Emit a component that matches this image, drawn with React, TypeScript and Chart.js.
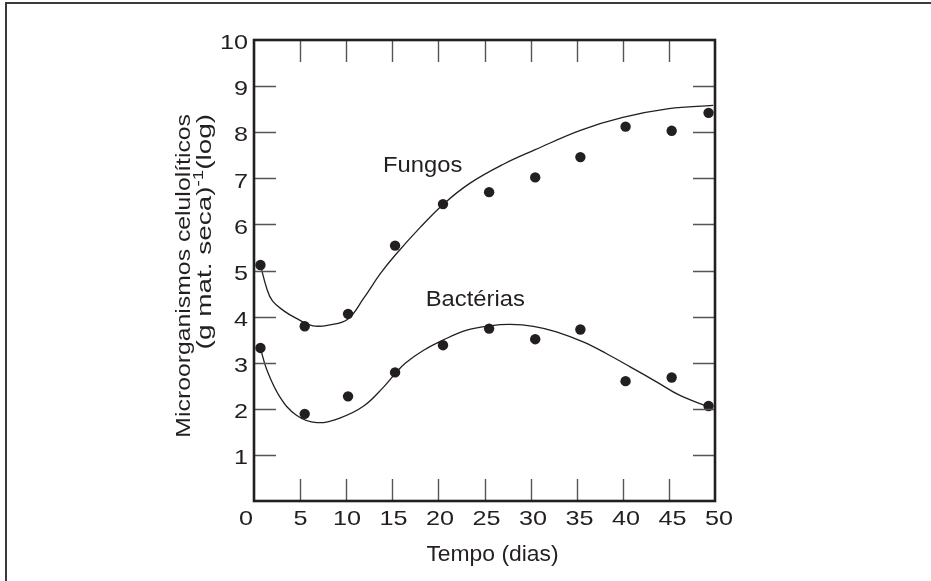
import React, { useEffect, useRef } from "react";
import { Chart, registerables } from "chart.js";

Chart.register(...registerables);

// Axis ticks
const dayTicks = [0, 5, 10, 15, 20, 25, 30, 35, 40, 45, 50];
const logTicks = [0, 1, 2, 3, 4, 5, 6, 7, 8, 9, 10];

// Sampling days and observed counts (log)
const sampleDays = [0.7, 5.5, 10.2, 15.3, 20.5, 25.5, 30.5, 35.4, 40.3, 45.3, 49.3];
const fungosObs = [5.12, 3.79, 4.06, 5.54, 6.44, 6.7, 7.02, 7.46, 8.12, 8.03, 8.42];
const bacteriasObs = [3.32, 1.89, 2.27, 2.79, 3.38, 3.74, 3.51, 3.72, 2.6, 2.68, 2.06];

// Fitted trend curves
const fungosFitDays = [0.7, 1.4, 2.0, 3.2, 4.6, 6.4, 8.2, 10.2, 11.9, 13.7, 15.3, 18.0, 20.6, 23.4, 27.0, 30.5, 35.4, 40.0, 45.0, 49.8];
const fungosFit = [5.12, 4.6, 4.34, 4.13, 3.96, 3.8, 3.82, 3.95, 4.4, 4.93, 5.33, 5.93, 6.45, 6.89, 7.3, 7.62, 8.04, 8.32, 8.51, 8.58];
const bacteriasFitDays = [0.7, 1.4, 2.8, 4.6, 6.8, 9.3, 11.9, 14.0, 15.3, 16.4, 18.4, 20.5, 23.0, 25.6, 27.8, 30.3, 32.8, 35.7, 38.2, 40.8, 43.7, 46.2, 49.3];
const bacteriasFit = [3.31, 2.84, 2.26, 1.86, 1.7, 1.8, 2.06, 2.46, 2.76, 2.99, 3.27, 3.49, 3.7, 3.8, 3.83, 3.79, 3.67, 3.45, 3.2, 2.91, 2.58, 2.29, 2.04];

// Text
const xTitle = "Tempo (dias)";
const yTitleLine1 = "Microorganismos celulolíticos";
const yTitleLine2 = ["(g mat. seca)", "-1", "(log)"];
const seriesLabels = ["Fungos", "Bactérias"];
const seriesLabelPos = [
  { x: 18.3, y: 7.3 },
  { x: 24.0, y: 4.4 },
];

const INK = "#231f20";
const FONT = "'Liberation Sans', Arial, Helvetica, sans-serif";

const zip = (xs: number[], ys: number[]) => xs.map((x, i) => ({ x, y: ys[i] }));

function drawScaledText(
  ctx: CanvasRenderingContext2D,
  text: string,
  x: number,
  y: number,
  size: number,
  align: CanvasTextAlign,
  sx: number
) {
  ctx.save();
  ctx.translate(x, y);
  ctx.scale(sx, 1);
  ctx.font = `${size}px ${FONT}`;
  ctx.textAlign = align;
  ctx.textBaseline = "alphabetic";
  ctx.fillText(text, 0, 0);
  ctx.restore();
}

const framePlugin = {
  id: "frameAndLabels",
  afterDraw(chart: any) {
    const ctx: CanvasRenderingContext2D = chart.ctx;
    const xs = chart.scales.x;
    const ys = chart.scales.y;
    const a = chart.chartArea;

    ctx.save();

    // outer figure border (left and top)
    ctx.strokeStyle = "#3a3a3a";
    ctx.lineWidth = 2;
    ctx.beginPath();
    ctx.moveTo(6, chart.height);
    ctx.lineTo(6, 3);
    ctx.lineTo(chart.width, 3);
    ctx.stroke();

    // inward tick marks
    ctx.strokeStyle = "#555555";
    ctx.lineWidth = 1.4;
    const tl = 22;
    ctx.beginPath();
    dayTicks.slice(1, -1).forEach((v) => {
      const px = Math.round(xs.getPixelForValue(v)) + 0.5;
      ctx.moveTo(px, a.bottom);
      ctx.lineTo(px, a.bottom - tl);
      ctx.moveTo(px, a.top);
      ctx.lineTo(px, a.top + tl);
    });
    logTicks.slice(1, -1).forEach((v) => {
      const py = Math.round(ys.getPixelForValue(v)) + 0.5;
      ctx.moveTo(a.left, py);
      ctx.lineTo(a.left + tl, py);
      ctx.moveTo(a.right - tl, py);
      ctx.lineTo(a.right, py);
    });
    ctx.stroke();

    // plot frame
    ctx.strokeStyle = INK;
    ctx.lineWidth = 2.6;
    ctx.strokeRect(a.left, a.top, a.right - a.left, a.bottom - a.top);

    ctx.fillStyle = INK;
    const tickSize = 21;

    // x tick labels
    dayTicks.forEach((v) => {
      let px = xs.getPixelForValue(v) + v * 0.08;
      if (v === 0) px -= 8;
      drawScaledText(ctx, String(v), px, a.bottom + 24, tickSize, "center", 1.2);
    });

    // y tick labels
    logTicks.slice(1).forEach((v) => {
      const py = ys.getPixelForValue(v);
      drawScaledText(ctx, String(v), a.left - 6, py + 9.2, tickSize, "right", 1.2);
    });

    // x title
    drawScaledText(ctx, xTitle, (a.left + a.right) / 2 + 8, 560.5, 22, "center", 1.04);

    // y title, two rotated lines ending at the same height
    const endY = 114;
    ctx.save();
    ctx.translate(189.5, endY);
    ctx.rotate(-Math.PI / 2);
    ctx.scale(1.18, 1);
    ctx.font = `21px ${FONT}`;
    ctx.textAlign = "right";
    ctx.fillText(yTitleLine1, 0, 0);
    ctx.restore();

    ctx.save();
    ctx.translate(211, endY);
    ctx.rotate(-Math.PI / 2);
    ctx.scale(1.33, 1);
    const mainFont = `21px ${FONT}`;
    const supFont = `14px ${FONT}`;
    ctx.font = mainFont;
    const w1 = ctx.measureText(yTitleLine2[0]).width;
    const w3 = ctx.measureText(yTitleLine2[2]).width;
    ctx.font = supFont;
    const w2 = ctx.measureText(yTitleLine2[1]).width;
    let cx = -(w1 + w2 + w3);
    ctx.textAlign = "left";
    ctx.font = mainFont;
    ctx.fillText(yTitleLine2[0], cx, 0);
    cx += w1;
    ctx.font = supFont;
    ctx.fillText(yTitleLine2[1], cx, -8);
    cx += w2;
    ctx.font = mainFont;
    ctx.fillText(yTitleLine2[2], cx, 0);
    ctx.restore();

    // series labels
    seriesLabels.forEach((t, i) => {
      const p = seriesLabelPos[i];
      drawScaledText(ctx, t, xs.getPixelForValue(p.x), ys.getPixelForValue(p.y) + 8, 22, "center", 1.08);
    });

    ctx.restore();
  },
};

export default function App() {
  const ref = useRef<HTMLCanvasElement | null>(null);

  useEffect(() => {
    if (!ref.current) return;
    const lineStyle = {
      type: "line" as const,
      showLine: true,
      borderColor: INK,
      borderWidth: 1.3,
      pointRadius: 0,
      fill: false,
      tension: 0.4,
    };
    const pointStyle = {
      type: "scatter" as const,
      showLine: false,
      pointRadius: 5.2,
      pointBackgroundColor: INK,
      pointBorderWidth: 0,
      clip: false as any,
    };
    const chart = new Chart(ref.current, {
      type: "scatter",
      data: {
        datasets: [
          { ...lineStyle, label: "Fungos (ajuste)", data: zip(fungosFitDays, fungosFit) },
          { ...lineStyle, label: "Bactérias (ajuste)", data: zip(bacteriasFitDays, bacteriasFit) },
          { ...pointStyle, label: "Fungos", data: zip(sampleDays, fungosObs) },
          { ...pointStyle, label: "Bactérias", data: zip(sampleDays, bacteriasObs) },
        ] as any,
      },
      options: {
        responsive: false,
        animation: false,
        devicePixelRatio: 1,
        layout: { padding: { left: 254, top: 40, right: 216, bottom: 80 } },
        scales: {
          x: { type: "linear", min: 0, max: 50, display: false },
          y: { type: "linear", min: 0, max: 10, display: false },
        },
        plugins: { legend: { display: false }, tooltip: { enabled: false } },
      },
      plugins: [framePlugin],
    });
    return () => chart.destroy();
  }, []);

  return (
    <div style={{ position: "fixed", left: 0, top: 0, width: 931, height: 581, background: "#fff" }}>
      <canvas ref={ref} width={931} height={581} style={{ display: "block" }} />
    </div>
  );
}
